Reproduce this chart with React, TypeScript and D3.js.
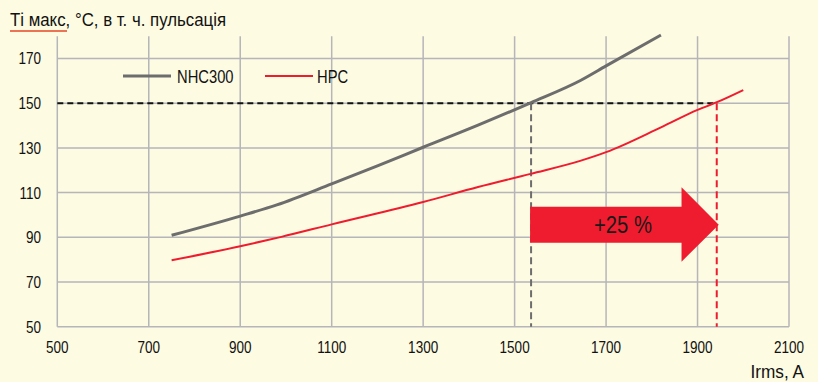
import React from "react";
import * as d3 from "d3";

const nhcX = [750, 900, 980, 1100, 1200, 1300, 1420, 1535, 1645, 1700, 1820];
const nhcY = [90.9, 99.5, 104.5, 113.9, 122, 130.3, 140.2, 150.2, 160.3, 166.7, 180.5];
const hpcX = [750, 900, 990, 1100, 1300, 1420, 1535, 1645, 1700, 1820, 1900, 1945, 2000];
const hpcY = [79.7, 86, 90.2, 95.8, 105.8, 112.5, 118.4, 124.3, 128.1, 139.2, 147, 150.7, 155.9];
const xTicks = [500, 700, 900, 1100, 1300, 1500, 1700, 1900, 2100];
const yTicks = [50, 70, 90, 110, 130, 150, 170];
const seriesNames = ["NHC300", "HPC"];
const limitTemp = 150;
const crossNHC = 1536;
const crossHPC = 1942;
const gainLabel = "+25 %";
const title = "Ті макс, °С, в т. ч. пульсація";
const xTitle = "Irms, A";

const FONT = "'Liberation Sans', Arial, sans-serif";
const GRID = "#b5b5ba";
const GRAY = "#6d6d6d";
const RED = "#ee1c2e";

function T(props: {
  x: number;
  y: number;
  size: number;
  sx?: number;
  anchor?: "start" | "middle" | "end";
  dy?: string;
  fill?: string;
  children: React.ReactNode;
}) {
  const { x, y, size, sx = 0.82, anchor = "start", dy, fill = "#111", children } = props;
  return (
    <text
      transform={`translate(${x},${y}) scale(${sx},1)`}
      fontSize={size}
      textAnchor={anchor}
      dy={dy}
      fill={fill}
    >
      {children}
    </text>
  );
}

export default function App() {
  const x = d3.scaleLinear().domain([500, 2100]).range([57.3, 789]);
  const y = d3.scaleLinear().domain([50, 180]).range([326.7, 36.2]);
  const line = d3
    .line<[number, number]>()
    .x((d) => x(d[0]))
    .y((d) => y(d[1]))
    .curve(d3.curveMonotoneX);
  const nhc = nhcX.map((v, i) => [v, nhcY[i]] as [number, number]);
  const hpc = hpcX.map((v, i) => [v, hpcY[i]] as [number, number]);

  const ax0 = x(crossNHC) - 1;
  const axBodyEnd = x(1865);
  const axTip = x(crossHPC) + 2;
  const ayTop = y(103.7);
  const ayBot = y(87.6);
  const ayHeadTop = y(112.4);
  const ayHeadBot = y(79.1);
  const ayMid = (ayTop + ayBot) / 2;
  const arrowPath = `M${ax0},${ayTop} L${axBodyEnd},${ayTop} L${axBodyEnd},${ayHeadTop} L${axTip},${ayMid} L${axBodyEnd},${ayHeadBot} L${axBodyEnd},${ayBot} L${ax0},${ayBot} Z`;

  return (
    <svg
      width={818}
      height={382}
      style={{ position: "absolute", left: 0, top: 0, display: "block" }}
      fontFamily={FONT}
    >
      <rect x={0} y={0} width={818} height={382} fill="#fdfbe2" />
      {xTicks.map((t) => (
        <line key={"gx" + t} x1={x(t)} x2={x(t)} y1={y(180)} y2={y(50)} stroke={GRID} strokeWidth={1.5} />
      ))}
      {yTicks.map((t) => (
        <line key={"gy" + t} x1={x(500)} x2={x(2100)} y1={y(t)} y2={y(t)} stroke={GRID} strokeWidth={1.5} />
      ))}
      {yTicks.map((t) => (
        <T key={"ly" + t} x={41} y={y(t)} dy="0.36em" anchor="end" size={16.5}>
          {t}
        </T>
      ))}
      {xTicks.map((t) => (
        <T key={"lx" + t} x={x(t)} y={353} anchor="middle" size={16.5}>
          {t}
        </T>
      ))}
      <T x={804} y={378} anchor="end" size={18.5} sx={0.93}>
        {xTitle}
      </T>
      <T x={10} y={26} size={18.5} sx={0.91}>
        {title}
      </T>
      <line x1={10} x2={67} y1={31} y2={31} stroke="#ec7455" strokeWidth={2} />
      <line x1={x(500)} x2={x(crossHPC)} y1={y(limitTemp)} y2={y(limitTemp)} stroke="#111" strokeWidth={2.2} strokeDasharray="6,4" />
      <line x1={x(crossNHC)} x2={x(crossNHC)} y1={y(limitTemp)} y2={y(50)} stroke={GRAY} strokeWidth={2} strokeDasharray="7,4" />
      <line x1={x(crossHPC)} x2={x(crossHPC)} y1={y(limitTemp)} y2={y(50)} stroke={RED} strokeWidth={2} strokeDasharray="7,4" />
      <path d={line(nhc) || ""} fill="none" stroke={GRAY} strokeWidth={3} />
      <path d={line(hpc) || ""} fill="none" stroke={RED} strokeWidth={2} />
      <path d={arrowPath} fill={RED} />
      <T x={623} y={ayMid} dy="0.36em" anchor="middle" size={23} sx={0.88} fill="#1a1a1a">
        {gainLabel}
      </T>
      <line x1={123} x2={171} y1={76} y2={76} stroke={GRAY} strokeWidth={3} />
      <T x={177} y={82.5} size={18}>
        {seriesNames[0]}
      </T>
      <line x1={265} x2={313} y1={76} y2={76} stroke={RED} strokeWidth={2} />
      <T x={317} y={82.5} size={18}>
        {seriesNames[1]}
      </T>
    </svg>
  );
}
